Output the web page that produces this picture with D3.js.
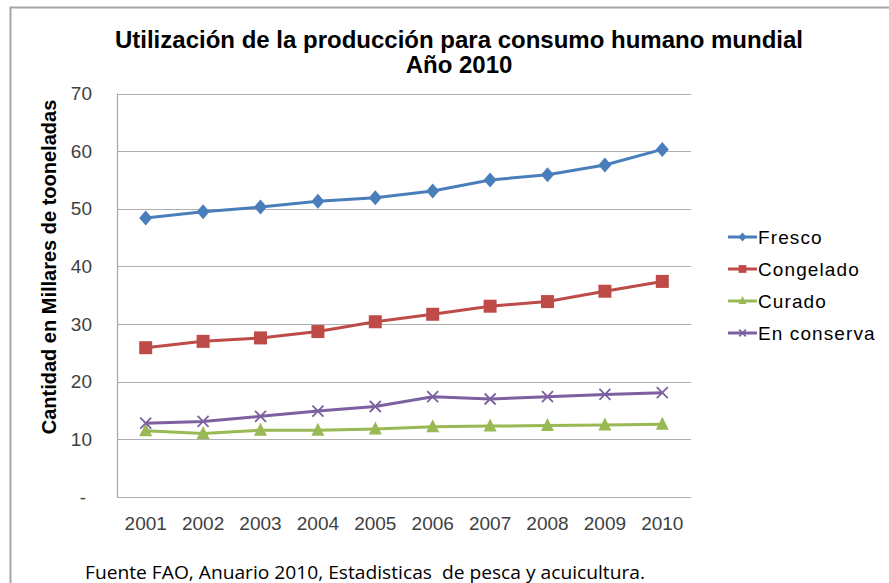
<!DOCTYPE html>
<html><head><meta charset="utf-8">
<script src="https://cdn.jsdelivr.net/npm/d3@7"></script>
<style>body{margin:0;background:#fff}svg{display:block}</style>
</head><body>
<script>
const years = ["2001","2002","2003","2004","2005","2006","2007","2008","2009","2010"];
const fresco = [48.4, 49.5, 50.3, 51.3, 51.9, 53.1, 55.0, 55.9, 57.6, 60.3];
const congelado = [25.9, 27.0, 27.6, 28.7, 30.4, 31.7, 33.1, 33.9, 35.7, 37.4];
const curado = [11.5, 11.0, 11.6, 11.6, 11.8, 12.2, 12.3, 12.4, 12.5, 12.6];
const enConserva = [12.8, 13.1, 14.0, 14.9, 15.7, 17.4, 17.0, 17.4, 17.8, 18.1];
const seriesNames = ["Fresco","Congelado","Curado","En conserva"];
const yTicks = [0,10,20,30,40,50,60,70];
const titleLines = ["Utilización de la producción para consumo humano mundial","Año 2010"];
const yTitle = "Cantidad en Millares de tooneladas";
const footer = "Fuente FAO, Anuario 2010, Estadisticas  de pesca y acuicultura.";

const W=889,H=583;
const FONT="Liberation Sans, Arial, sans-serif";
const svg=d3.select("body").append("svg").attr("width",W).attr("height",H);
svg.append("rect").attr("width",W).attr("height",H).attr("fill","#fff");
svg.append("path").attr("d","M10.5,"+H+" V7.5 H"+W).attr("fill","none").attr("stroke","#a6a6a6").attr("stroke-width",2);

const m={l:117,r:691,t:93.5,b:497};
const x=d3.scaleBand().domain(years).range([m.l,m.r]);
const y=d3.scaleLinear().domain([0,70]).range([m.b,m.t]);
const colors=["#4A7EBB","#BE4B48","#98B954","#7D60A0"];
const data=[fresco,congelado,curado,enConserva];

svg.append("g").selectAll("line").data(yTicks).join("line")
 .attr("x1",m.l).attr("x2",m.r).attr("y1",d=>Math.round(y(d))+0.5).attr("y2",d=>Math.round(y(d))+0.5)
 .attr("stroke","#b0b0b0").attr("stroke-width",1.2);
svg.append("line").attr("x1",m.l+0.5).attr("x2",m.l+0.5).attr("y1",m.t).attr("y2",m.b)
 .attr("stroke","#a6a6a6").attr("stroke-width",1.2);

const yAxis=d3.axisLeft(y).tickValues(yTicks).tickSize(0).tickPadding(0)
 .tickFormat(d=>d===0?"-":d);
const ga=svg.append("g").attr("transform",`translate(${m.l-25},0)`).call(yAxis);
ga.select(".domain").remove();
ga.selectAll("text").attr("font-family",FONT).attr("font-size",19).attr("fill","#404040");
ga.selectAll(".tick").filter(d=>d===0).select("text").attr("dx",-6);

const xAxis=d3.axisBottom(x).tickSize(0).tickPadding(0);
const gx=svg.append("g").attr("transform",`translate(0,${m.b+19})`).call(xAxis);
gx.select(".domain").remove();
gx.selectAll("text").attr("font-family",FONT).attr("font-size",19).attr("fill","#404040");

svg.append("text").attr("transform",`translate(56,267) rotate(-90)`)
 .attr("text-anchor","middle").attr("font-family",FONT)
 .attr("font-weight","bold").attr("font-size",20).attr("fill","#000").text(yTitle);

svg.append("text").attr("x",459).attr("y",48).attr("text-anchor","middle")
 .attr("font-family",FONT).attr("font-weight","bold").attr("font-size",24)
 .text(titleLines[0]);
svg.append("text").attr("x",459).attr("y",73).attr("text-anchor","middle")
 .attr("font-family",FONT).attr("font-weight","bold").attr("font-size",24)
 .text(titleLines[1]);

const cx=d=>x(d)+x.bandwidth()/2;
const line=d3.line().x((v,i)=>cx(years[i])).y(v=>y(v));

function marker(g,k,px,py,s){
  s=s||1;
  const c=colors[k];
  if(k===0){
    const a=6.5*s,b=7.5*s;
    g.append("path").attr("d",`M${px},${py-b}L${px+a},${py}L${px},${py+b}L${px-a},${py}Z`).attr("fill",c);
  } else if(k===1){
    const a=6.5*s;
    g.append("rect").attr("x",px-a).attr("y",py-a).attr("width",2*a).attr("height",2*a).attr("fill",c);
  } else if(k===2){
    const a=6.5*s;
    g.append("path").attr("d",`M${px},${py-a-1}L${px+a},${py+a-1}L${px-a},${py+a-1}Z`).attr("fill",c);
  } else {
    const a=5.5*s;
    g.append("path").attr("d",`M${px-a},${py-a}L${px+a},${py+a}M${px+a},${py-a}L${px-a},${py+a}`)
     .attr("stroke",c).attr("stroke-width",1.8).attr("fill","none");
  }
}

data.forEach((arr,k)=>{
  const g=svg.append("g");
  g.append("path").datum(arr).attr("d",line).attr("fill","none").attr("stroke",colors[k]).attr("stroke-width",3);
  arr.forEach((v,i)=>marker(g,k,cx(years[i]),y(v)));
});

const lg=svg.append("g");
seriesNames.forEach((n,k)=>{
  const yy=237+k*32;
  lg.append("line").attr("x1",728).attr("x2",757).attr("y1",yy).attr("y2",yy).attr("stroke",colors[k]).attr("stroke-width",3);
  marker(lg,k,742.5,yy,0.6);
  lg.append("text").attr("x",758).attr("y",yy+6.5).attr("font-family",FONT)
   .attr("font-size",19).attr("letter-spacing",1.1).attr("fill","#000").text(n);
});

svg.append("text").attr("x",85).attr("y",579).attr("font-family","Open Sans, Liberation Sans, sans-serif")
 .attr("font-size",18).attr("fill","#000").style("white-space","pre")
 .attr("textLength",560).attr("lengthAdjust","spacingAndGlyphs").text(footer);
</script>
</body></html>
